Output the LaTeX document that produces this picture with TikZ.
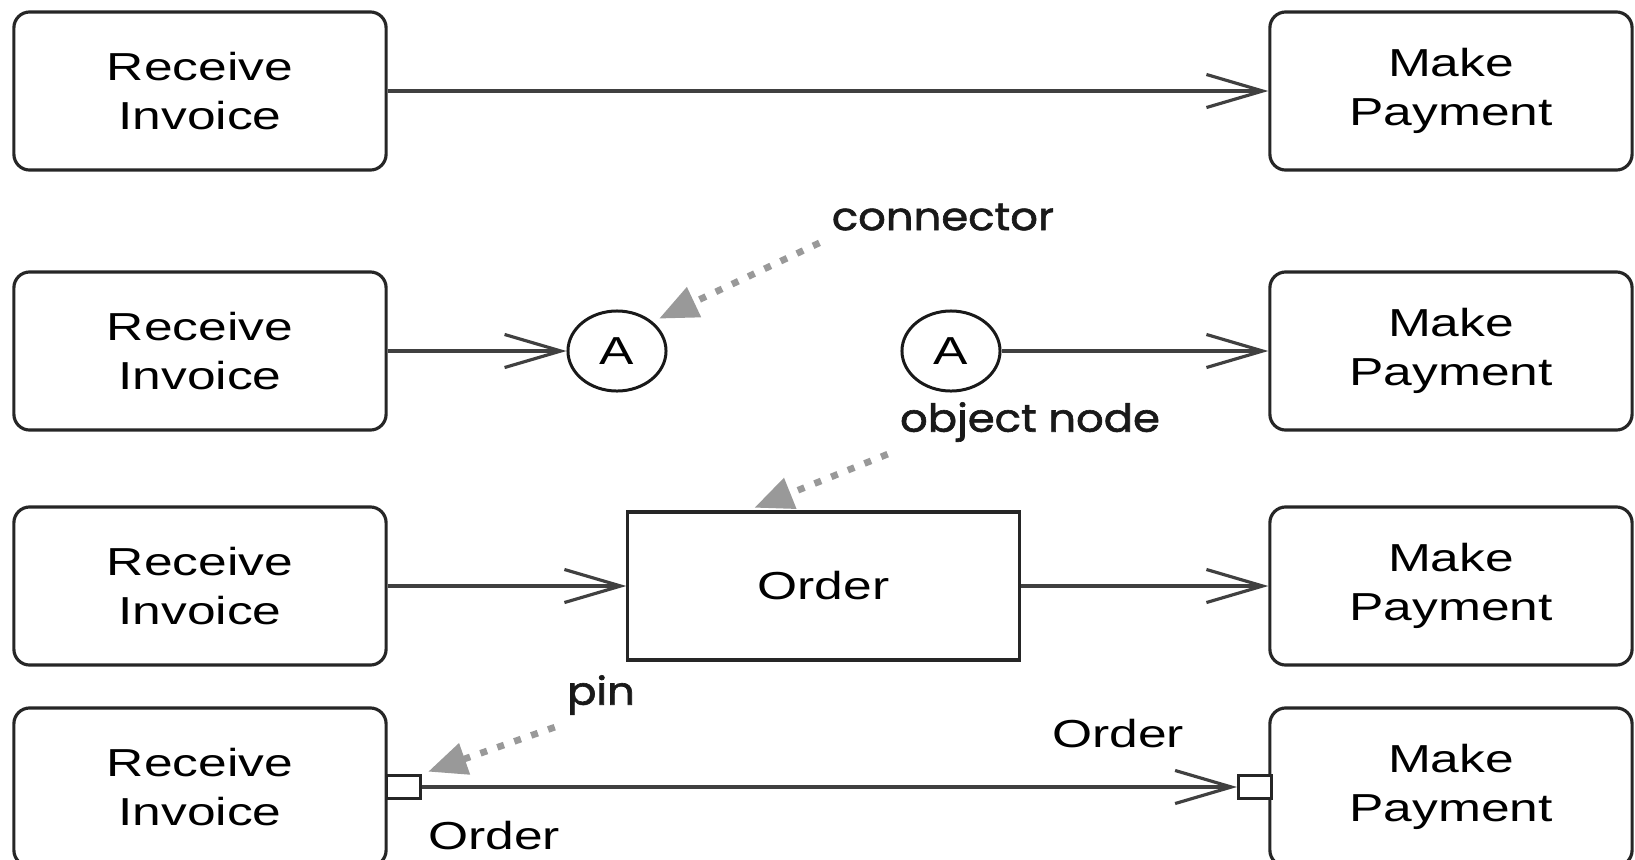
\documentclass[tikz,border=0pt]{standalone}
\usepackage{fontspec}
\setmainfont{Liberation Sans}[FakeStretch=1.32]
\newfontfamily\notefont{Poppins}[FakeStretch=1.12,FakeBold=1.6]
\usetikzlibrary{arrows.meta,positioning,shapes.geometric}

\begin{document}
\begin{tikzpicture}
		[x=0.01cm,y=-0.01cm,
		act node/.style={shape=rectangle,rounded corners=4.5pt,draw=black!85,line width=0.9pt,fill=white,
			minimum width=3.72cm,minimum height=1.58cm,align=center,font=\fontsize{11.1}{13.8}\selectfont},
		obj node/.style={shape=rectangle,draw=black!85,line width=0.9pt,minimum width=3.91cm,minimum height=1.48cm,
			font=\fontsize{11.1}{13.8}\selectfont},
		con node/.style={shape=ellipse,draw=black!90,line width=0.85pt,minimum width=0.98cm,minimum height=0.8cm,inner sep=0pt,
			font=\fontsize{11.1}{13.8}\selectfont},
		pin node/.style={shape=rectangle,draw=black!85,line width=0.85pt,fill=white,minimum width=0.33cm,minimum height=0.23cm,inner sep=0pt},
		note/.style={font=\notefont\fontsize{11}{13}\selectfont,text=black!90},
		flow/.style={draw=black!75,line width=0.9pt,-{Straight Barb[length=16pt,width=9.4pt,line width=0.9pt]}},
		note arrow/.style={draw=black!40,line width=1.9pt,dash pattern=on 2pt off 3.1pt,
			-{Triangle[length=11pt,width=9pt]},shorten >=2pt}]
		\clip (0,0) rectangle (1635,860);
		
		\node [act node] (r1) at (200,91) {Receive\\Invoice};
		\node [act node,minimum width=3.62cm] (m1) at (1451,91) {Make\\Payment};
		
		\node [act node] (r2) at (200,351) {Receive\\Invoice};
		\node [con node] (a1) at (617,351) {A};
		\node [con node] (a2) at (951,351) {A};
		\node [act node,minimum width=3.62cm] (m2) at (1451,351) {Make\\Payment};
		
		\node [act node] (r3) at (200,586) {Receive\\Invoice};
		\node [obj node] (ord) at (823.5,586) {Order};
		\node [act node,minimum width=3.62cm] (m3) at (1451,586) {Make\\Payment};
		
		\node [act node] (r4) at (200,787) {Receive\\Invoice};
		\node [act node,minimum width=3.62cm] (m4) at (1451,787) {Make\\Payment};
		\node [pin node] (p1) at (403.5,787) {};
		\node [pin node] (p2) at (1255,787) {};
		
		\node [act node,draw=none,fill=none,minimum width=0pt,minimum height=0pt,inner sep=0pt] (o1) at (1118,734) {Order};
		\node [act node,draw=none,fill=none,minimum width=0pt,minimum height=0pt,inner sep=0pt] (o2) at (494,836) {Order};
		
		\node [note] (lc) at (943,217) {connector};
		\node [note] (lo) at (1030,422) {object node};
		\node [note] (lp) at (601,695) {pin};
		
		\path
		(r1) edge[flow] (m1)
		
		(r2) edge[flow] (a1)
		(a2) edge[flow] (m2)
		
		(r3) edge[flow] (ord)
		(ord) edge[flow] (m3)
		
		(p1) edge[flow] (p2)
		;
		
		\draw[note arrow] (lc.south west) -- (a1.north east);
		\draw[note arrow] (lo.south west) -- (ord.135);
		\draw[note arrow] (lp.south west) -- (p1.north east);
		
		\end{tikzpicture}
\end{document}
